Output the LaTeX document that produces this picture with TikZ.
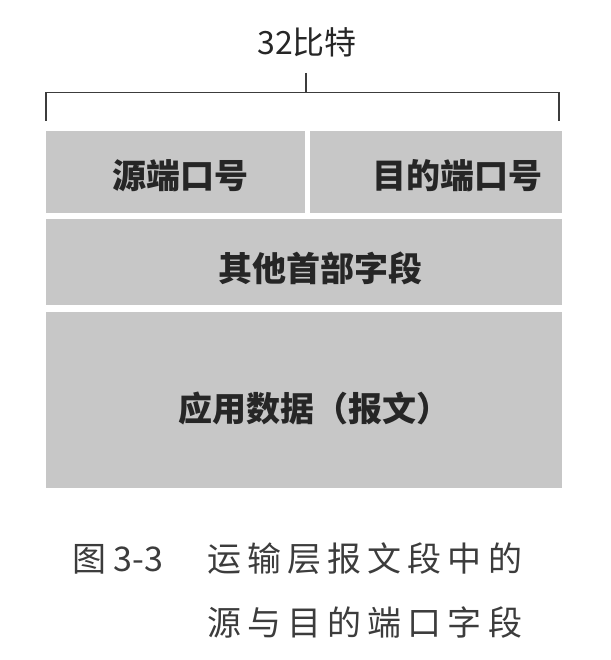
\documentclass[tikz,border=0pt]{standalone}
\usepackage{fontspec}
\usepackage{tikz}
\usetikzlibrary{positioning, calc}
\newfontfamily\cjk{Noto Sans CJK SC}
\newfontfamily\cjkcap[LetterSpace=18]{Noto Sans CJK SC}
\definecolor{fieldgray}{RGB}{199,199,199}
\definecolor{inkgray}{RGB}{38,38,38}
\definecolor{capgray}{RGB}{60,60,60}

\begin{document}
\begin{tikzpicture} [x=1pt, y=-1pt, every node/.style={inner sep=0pt},
  field/.style={fill=fieldgray, draw=none, anchor=north west},
  fieldtext/.style={text=inkgray, font=\cjk\bfseries\fontsize{34}{34}\selectfont},
  captext/.style={text=capgray, anchor=west, font=\cjkcap\fontsize{34}{34}\selectfont}]
\useasboundingbox (0,0) rectangle (610,660);
% bracket over the 32 bits
\node[text=inkgray, font=\cjk\fontsize{32}{32}\selectfont] (width) at (307,42) {32比特};
\draw[capgray, line width=1.6pt] (46,121) -- (46,92.5) -- (559,92.5) -- (559,121);
\draw[capgray, line width=1.3pt] (306,73) -- (306,92.5);

% fields
\node[field, minimum width=259, minimum height=82] (src) at (46,131) {};
\node[field, minimum width=252, minimum height=82] (dst) at (310,131) {};
\node[field, minimum width=516, minimum height=86] (opt) at (46,219) {};
\node[field, minimum width=516, minimum height=176] (data) at (46,312) {};
\node[fieldtext] (srctext) at (180,175.5) {源端口号};
\node[fieldtext] (dsttext) at (457,175.5) {目的端口号};
\node[fieldtext] (opttext) at (320,268.5) {其他首部字段};
\node[fieldtext] (datatext) at (314,408.5) {应用数据（报文）};

% caption
\node[captext] (fig) at (72,559) {图{\cjk\ 3-3}};
\node[captext] (cap1) at (207,559) {运输层报文段中的};
\node[captext] (cap2) at (207,623) {源与目的端口字段};
\end{tikzpicture}
\end{document}
